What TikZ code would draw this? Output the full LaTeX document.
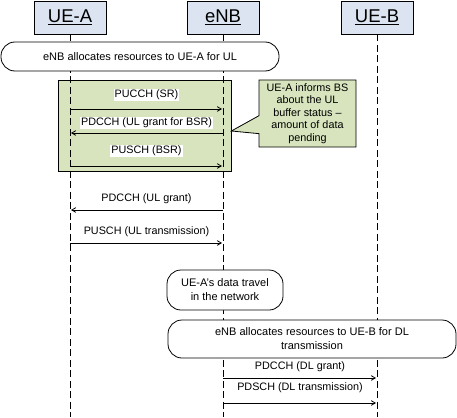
\documentclass[tikz,border=0pt]{standalone}
\usepackage{fontspec}
\setmainfont{Liberation Sans}
\usepackage{xcolor}
\usepackage{tikz}
\usetikzlibrary{arrows}
\usetikzlibrary{calc}
\usetikzlibrary{positioning}
\usetikzlibrary{shapes.callouts}

\definecolor{headblue}{RGB}{219,228,240}
\definecolor{notegreen}{RGB}{215,228,189}

\begin{document}
\begin{tikzpicture}[x=1pt,y=-1pt,-,>=angle 60,node distance=153pt,line width=0.8pt]
						\tikzstyle{head}=[draw, fill=headblue, minimum width=72pt, minimum height=33pt, inner sep=0pt, font=\fontsize{18.5}{20}\selectfont]
						\tikzstyle{life}=[dash pattern=on 7pt off 3.5pt]
						\tikzstyle{pill}=[draw, fill=white, rounded corners=14pt, inner sep=1pt, align=center, font=\fontsize{11}{14}\selectfont]
						\tikzstyle{grp}=[draw, fill=notegreen, minimum width=173pt, minimum height=91pt]
						\tikzstyle{note}=[rectangle callout, draw, fill=notegreen, minimum width=97pt, minimum height=67pt, inner sep=1pt, align=center, callout pointer width=18pt, font=\fontsize{10.8}{12.5}\selectfont]
						\tikzstyle{msg}=[->, shorten >=1pt]
						\tikzstyle{lbl}=[fill=white, inner sep=1pt, font=\fontsize{10.8}{12}\selectfont]
						\useasboundingbox (0,0) rectangle (457,417);
						\node[grp] 		(G) at (144.5,125.5)              {};
						\node[head] 		(UEA) at (70,17.5)                {\underline{UE-A}};
						\node[head] 		(ENB) [right of=UEA]              {\underline{eNB}};
						\node[head] 		(UEB) [right of=ENB, xshift=1pt]  {\underline{UE-B}};
 				  \path[life]
					 (UEA.south) edge (UEA.south |- 0,417)
					 (ENB.south) edge (ENB.south |- 0,417)
					 (UEB.south) edge (UEB.south |- 0,417);
						\node[pill, minimum width=278pt, minimum height=29pt] 	(ALLOCA) at (140,56.5)    {eNB allocates resources to UE-A for UL};
						\node[pill, minimum width=116pt, minimum height=40pt] 	(TRAVEL) at (225,290)     {UE-A’s data travel\\in the network};
						\node[pill, minimum width=288pt, minimum height=38pt] 	(ALLOCB) at (312,339)     {eNB allocates resources to UE-B for DL\\transmission};
						\node[note, callout absolute pointer={(G.east |- 0,131)}] (NOTE) at (307.5,113.5) {UE-A informs BS\\about the UL\\buffer status –\\amount of data\\pending};
 				  \path[msg]
					 (UEA |- 0,109) edge node[lbl, above=8pt] {PUCCH (SR)} (ENB |- 0,109)
					 (ENB |- 0,133) edge node[lbl, above=4pt] {PDCCH (UL grant for BSR)} (UEA |- 0,133)
					 (UEA |- 0,166) edge node[lbl, above=9pt] {PUSCH (BSR)} (ENB |- 0,166)
					 (ENB |- 0,210) edge node[lbl, above=5pt] {PDCCH (UL grant)} (UEA |- 0,210)
					 (UEA |- 0,243) edge node[lbl, above=5pt] {PUSCH (UL transmission)} (ENB |- 0,243)
					 (ENB |- 0,378) edge node[lbl, above=5pt] {PDCCH (DL grant)} (UEB |- 0,378)
					 %(UEB) edge (ENB)
					 (ENB |- 0,403) edge node[lbl, above=9pt] {PDSCH (DL transmission)} (UEB |- 0,403);
				\end{tikzpicture}
\end{document}
